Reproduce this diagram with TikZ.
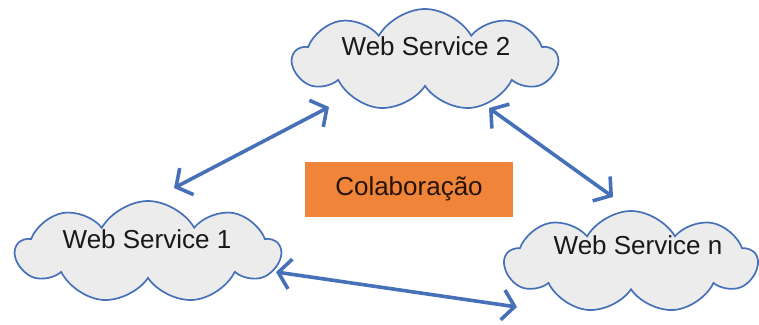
\documentclass[tikz,border=0pt]{standalone}
\usepackage{fontspec}
\setmainfont{Liberation Sans}
\usetikzlibrary{shapes.symbols,arrows.meta,calc}
\definecolor{lineblue}{RGB}{70,112,184}
\definecolor{cloudgray}{RGB}{236,236,236}
\definecolor{boxorange}{RGB}{240,132,56}
\definecolor{inktext}{RGB}{25,25,25}
\tikzset{
  service/.style={cloud, cloud puffs=9, cloud puff arc=120, aspect=2.6,
    draw=lineblue, line width=1.7pt, fill=cloudgray, inner sep=0pt,
    minimum width=264pt, minimum height=102pt},
  label/.style={font=\fontsize{26}{31}\selectfont, text=inktext},
  dbl/.style={draw=lineblue, line width=3.6pt,
    {Straight Barb[length=12pt,width=30pt,line width=3.6pt]}-{Straight Barb[length=12pt,width=30pt,line width=3.6pt]}}
}
\begin{document}
\begin{tikzpicture}[x=1pt,y=-1pt]
  \useasboundingbox (0,0) rectangle (759,324);
  % clouds
  \node[service] (ws2) at (425,60) {};
  \node[service] (ws1) at (148,252) {};
  \node[service, minimum width=252pt] (wsn) at (631,262) {};
  \node[label] at ($(ws2.center)+(1,-14)$) {Web Service 2};
  \node[label] at ($(ws1.center)+(-1,-13)$) {Web Service 1};
  \node[label] at ($(wsn.center)+(7,-17)$) {Web Service n};
  % collaboration box
  \node[fill=boxorange, minimum width=208pt, minimum height=55pt, inner sep=0pt,
        label, text=black!85!boxorange] (collab) at (409,189) {Colaboração};
  % connector end points next to the clouds
  \coordinate (a1) at ($(ws1.center)+(26,-64)$);
  \coordinate (a2) at ($(ws2.center)+(-96,47)$);
  \coordinate (b1) at ($(ws2.center)+(64,48)$);
  \coordinate (b2) at ($(wsn.center)+(-18,-65)$);
  \coordinate (c1) at ($(ws1.center)+(128,20)$);
  \coordinate (c2) at ($(wsn.center)+(-114,45)$);
  \draw[dbl] (a1) -- (a2);
  \draw[dbl] (b1) -- (b2);
  \draw[dbl] (c1) -- (c2);
\end{tikzpicture}
\end{document}
